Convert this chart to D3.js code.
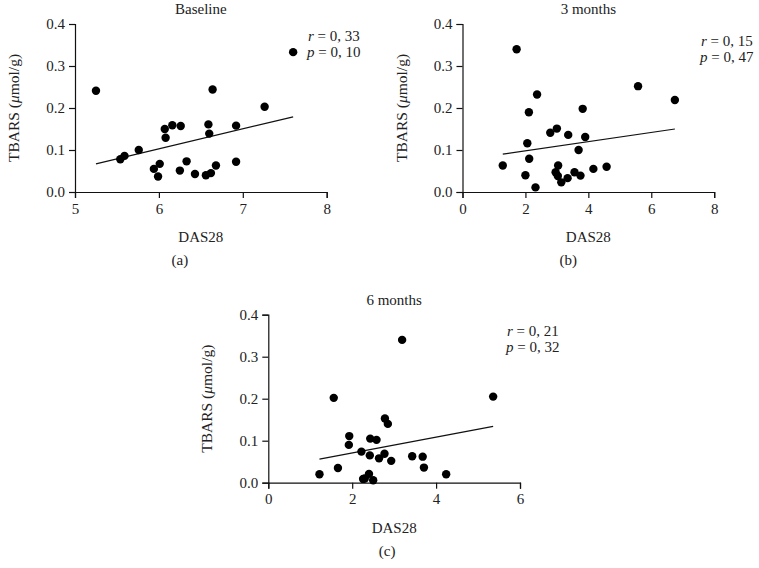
<!DOCTYPE html>
<html>
<head>
<meta charset="utf-8">
<title>TBARS vs DAS28</title>
<script src="https://d3js.org/d3.v7.min.js"></script>
<style>
  body { margin: 0; background: #fff; }
  svg text { font-family: "Liberation Serif", "DejaVu Serif", serif; fill: #222; }
  .axis path, .axis line { stroke: #111; stroke-width: 1.2; }
  .axis text { font-size: 15px; fill: #222; }
</style>
</head>
<body>
<svg width="759" height="568"></svg>
<script>
// values
var titles = ["Baseline", "3 months", "6 months"];
var panelTags = ["(a)", "(b)", "(c)"];
var rTexts = ["0, 33", "0, 15", "0, 21"];
var pTexts = ["0, 10", "0, 47", "0, 32"];

var baselineDas   = [5.25, 7.60, 5.54, 5.59, 5.76, 5.94, 6.01, 5.99, 6.07, 6.08, 6.16, 6.26,
                     6.25, 6.33, 6.43, 6.56, 6.62, 6.68, 6.59, 6.60, 6.64, 6.92, 6.92, 7.26];
var baselineTbars = [0.241, 0.333, 0.078, 0.086, 0.100, 0.055, 0.067, 0.037, 0.150, 0.129, 0.159, 0.157,
                     0.051, 0.073, 0.043, 0.040, 0.045, 0.063, 0.161, 0.139, 0.244, 0.158, 0.072, 0.203];

var m3Das   = [1.72, 1.28, 2.00, 2.06, 2.11, 2.12, 2.32, 2.37, 2.79, 3.00, 2.96, 3.04, 3.03,
               3.14, 3.34, 3.36, 3.56, 3.69, 3.75, 3.82, 3.90, 4.16, 4.58, 5.58, 6.75];
var m3Tbars = [0.340, 0.063, 0.040, 0.116, 0.190, 0.079, 0.011, 0.232, 0.141, 0.151, 0.047, 0.063, 0.038,
               0.023, 0.033, 0.136, 0.047, 0.100, 0.039, 0.198, 0.131, 0.055, 0.060, 0.252, 0.219];

var m6Das   = [1.22, 1.56, 1.66, 1.93, 1.92, 2.22, 2.26, 2.30, 2.40, 2.43, 2.42, 2.50,
               2.58, 2.64, 2.77, 2.78, 2.85, 2.93, 3.19, 3.43, 3.68, 3.71, 4.24, 5.36];
var m6Tbars = [0.020, 0.202, 0.035, 0.111, 0.090, 0.074, 0.009, 0.010, 0.021, 0.105, 0.065, 0.006,
               0.102, 0.058, 0.069, 0.153, 0.140, 0.052, 0.340, 0.063, 0.062, 0.036, 0.020, 0.205];

// fitted line end points as drawn
var baselineTrend = [[5.25, 0.067], [7.60, 0.179]];
var m3Trend = [[1.28, 0.090], [6.75, 0.150]];
var m6Trend = [[1.22, 0.056], [5.36, 0.134]];

var xDomains = [[5, 8], [0, 8], [0, 6]];
var xTicks = [[5, 6, 7, 8], [0, 2, 4, 6, 8], [0, 2, 4, 6]];
var yTicks = [0, 0.1, 0.2, 0.3, 0.4];

var panels = [
  { x: baselineDas, y: baselineTbars, trend: baselineTrend, left: 75,    top: 24,    rx: 308, ry: 41,  tagDx: -21 },
  { x: m3Das,       y: m3Tbars,       trend: m3Trend,       left: 462.5, top: 24,    rx: 701, ry: 46,  tagDx: -20 },
  { x: m6Das,       y: m6Tbars,       trend: m6Trend,       left: 268.3, top: 314.7, rx: 507, ry: 336, tagDx: -7 }
];

var w = 251.7, h = 168;
var svg = d3.select("svg");

panels.forEach(function(p, i) {
  var g = svg.append("g").attr("transform", "translate(" + p.left + "," + p.top + ")");

  var x = d3.scaleLinear().domain(xDomains[i]).range([0, w]);
  var y = d3.scaleLinear().domain([0, 0.4]).range([h, 0]);

  g.append("g")
      .attr("class", "axis")
      .attr("transform", "translate(0," + h + ")")
      .call(d3.axisBottom(x).tickValues(xTicks[i]).tickSizeOuter(0).tickSize(6).tickPadding(5).tickFormat(d3.format("d")));

  g.append("g")
      .attr("class", "axis")
      .call(d3.axisLeft(y).tickValues(yTicks).tickSizeOuter(0).tickSize(6).tickPadding(4).tickFormat(d3.format(".1f")));

  g.append("line")
      .attr("x1", x(p.trend[0][0])).attr("y1", y(p.trend[0][1]))
      .attr("x2", x(p.trend[1][0])).attr("y2", y(p.trend[1][1]))
      .attr("stroke", "#111").attr("stroke-width", 1.2);

  g.selectAll("circle")
    .data(d3.zip(p.x, p.y))
    .enter().append("circle")
      .attr("cx", function(d) { return x(d[0]); })
      .attr("cy", function(d) { return y(d[1]); })
      .attr("r", 4.2)
      .attr("fill", "#000");

  g.append("text")
      .attr("x", w / 2).attr("y", -10)
      .attr("text-anchor", "middle")
      .style("font-size", "15px")
      .text(titles[i]);

  g.append("text")
      .attr("x", w / 2).attr("y", h + 50)
      .attr("text-anchor", "middle")
      .style("font-size", "15px")
      .text("DAS28");

  g.append("text")
      .attr("x", w / 2 + p.tagDx).attr("y", h + 73)
      .attr("text-anchor", "middle")
      .style("font-size", "15px")
      .text(panelTags[i]);

  var yl = g.append("text")
      .attr("transform", "translate(-56," + (h / 2) + ") rotate(-90)")
      .attr("text-anchor", "middle")
      .style("font-size", "15.5px");
  yl.append("tspan").text("TBARS (");
  yl.append("tspan").style("font-style", "italic").text("\u03bc");
  yl.append("tspan").text("mol/g)");

  var rt = svg.append("text").attr("x", p.rx).attr("y", p.ry).style("font-size", "15px");
  rt.append("tspan").style("font-style", "italic").text("r");
  rt.append("tspan").text(" = " + rTexts[i]);

  var pt = svg.append("text").attr("x", p.rx - 1).attr("y", p.ry + 16).style("font-size", "15px");
  pt.append("tspan").style("font-style", "italic").text("p");
  pt.append("tspan").text(" = " + pTexts[i]);
});
</script>
</body>
</html>
